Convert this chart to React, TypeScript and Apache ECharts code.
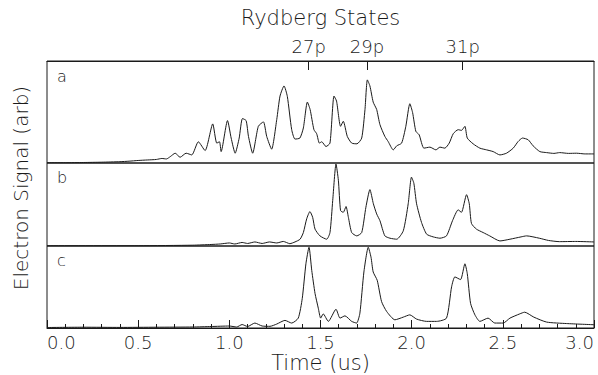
import React, { useEffect, useRef } from "react";
import * as echarts from "echarts";

// Panel a
const timeA = [0, 0.1, 0.2, 0.3, 0.4, 0.45, 0.5, 0.55, 0.6, 0.63, 0.655, 0.676, 0.703, 0.73, 0.763, 0.794, 0.83, 0.867, 0.909, 0.931, 0.946, 0.955, 0.99, 1.01, 1.032, 1.054, 1.072, 1.092, 1.105, 1.128, 1.159, 1.187, 1.205, 1.232, 1.26, 1.278, 1.3, 1.318, 1.342, 1.36, 1.387, 1.406, 1.428, 1.443, 1.464, 1.479, 1.494, 1.507, 1.53, 1.552, 1.574, 1.588, 1.61, 1.625, 1.647, 1.671, 1.7, 1.726, 1.744, 1.757, 1.771, 1.789, 1.808, 1.826, 1.853, 1.871, 1.899, 1.918, 1.945, 1.968, 1.99, 2.005, 2.023, 2.041, 2.067, 2.1, 2.133, 2.155, 2.182, 2.206, 2.228, 2.255, 2.273, 2.292, 2.305, 2.337, 2.374, 2.411, 2.447, 2.484, 2.52, 2.557, 2.584, 2.608, 2.639, 2.666, 2.703, 2.74, 2.78, 2.812, 2.86, 2.904, 2.95, 3.0];
const signalA = [0.3, 0.3, 0.5, 0.8, 1.3, 1.8, 2.5, 3, 3.5, 4.5, 4, 6.3, 9.7, 5.7, 9.7, 8, 21, 12.3, 38.7, 19.7, 21, 11.3, 42, 24.7, 9.7, 24.7, 44, 42, 26.3, 9.7, 36.3, 40.7, 26.3, 13.7, 43, 66.3, 76.3, 66, 33, 23.7, 24.7, 34.7, 60.3, 53, 33, 29, 19.7, 21, 16.3, 19.7, 66.3, 61.3, 36.3, 41.3, 26.3, 19.7, 19, 24.7, 53, 82.3, 76.3, 60.3, 53, 38, 26.3, 21.3, 13, 17, 19.7, 36.3, 58.7, 50, 31.3, 28, 14.7, 15.7, 13, 15.7, 14.7, 19.7, 29, 33, 32.3, 36.3, 24.7, 19, 14.7, 13, 11.3, 8, 9.7, 14.7, 21.3, 24.7, 23, 17, 11.3, 10.3, 9.5, 10.3, 9.5, 9.7, 9, 9];

// Panel b
const timeB = [0, 0.5, 0.8, 0.9, 0.95, 1.0, 1.03, 1.07, 1.1, 1.14, 1.18, 1.22, 1.26, 1.296, 1.332, 1.36, 1.388, 1.406, 1.424, 1.442, 1.457, 1.47, 1.497, 1.534, 1.552, 1.567, 1.585, 1.598, 1.61, 1.625, 1.64, 1.653, 1.671, 1.699, 1.726, 1.749, 1.771, 1.79, 1.808, 1.826, 1.853, 1.881, 1.918, 1.954, 1.981, 1.999, 2.012, 2.027, 2.054, 2.082, 2.118, 2.155, 2.191, 2.224, 2.255, 2.273, 2.301, 2.316, 2.328, 2.355, 2.392, 2.428, 2.484, 2.539, 2.6, 2.63, 2.7, 2.75, 2.81, 2.9, 3.0];
const signalB = [0.3, 0.3, 0.8, 1.5, 2, 3, 2, 3.5, 2.5, 4, 2.5, 4, 3, 4.5, 2.3, 4, 6.7, 13.3, 26.7, 34, 28.3, 16.7, 10, 6.7, 13.3, 45, 81, 65, 35, 33.3, 39, 28.3, 13.3, 10, 13.3, 38.3, 55.7, 41.7, 31.7, 25, 10, 7.7, 6.7, 15, 41.7, 68, 62, 41.7, 23.3, 11.7, 9, 7.7, 10, 25, 35.7, 33.3, 50.7, 41.7, 22.3, 16.7, 13.3, 10, 5, 6.7, 9, 10, 7.7, 5.5, 4.3, 4.5, 4];

// Panel c
const timeC = [0, 0.2, 0.4, 0.6, 0.8, 0.9, 1.0, 1.04, 1.07, 1.1, 1.14, 1.18, 1.223, 1.26, 1.305, 1.342, 1.378, 1.4, 1.42, 1.437, 1.452, 1.47, 1.488, 1.501, 1.515, 1.543, 1.585, 1.607, 1.634, 1.671, 1.698, 1.716, 1.738, 1.762, 1.777, 1.789, 1.811, 1.835, 1.863, 1.908, 1.954, 1.99, 2.027, 2.082, 2.137, 2.191, 2.219, 2.237, 2.268, 2.292, 2.305, 2.323, 2.347, 2.374, 2.419, 2.456, 2.502, 2.539, 2.593, 2.62, 2.67, 2.74, 2.85, 3.0];
const signalC = [0.5, 0.8, 0.6, 0.8, 1, 1.5, 2, 1, 3.5, 1.5, 5, 2, 1.7, 4, 7.7, 5, 10, 30, 65, 81.7, 58.3, 35, 20, 10, 14.3, 6.7, 19, 10, 12.3, 6.7, 5, 15, 56.7, 81.7, 71.7, 56.7, 48.3, 26.7, 16.7, 8.3, 11, 13.3, 9, 6.7, 6.7, 10, 41.7, 51.7, 49, 65, 55, 25, 13.3, 6.7, 10, 5, 5, 10, 14.3, 16, 11, 6, 4.5, 3.3];

// Rydberg state markers (top axis)
const rydbergTimes = [1.435, 1.755, 2.28];
const rydbergLabels = ["27p", "29p", "31p"];

const panelLabels = ["a", "b", "c"];
const panelMax = [101, 82, 83];

const FONT = "DejaVu Sans";
const INK = "#1a1a1a";

const zip = (t: number[], v: number[]) => t.map((x, i) => [x, v[i]]);

export default function App() {
  const ref = useRef<HTMLDivElement>(null);
  useEffect(() => {
    document.body.style.margin = "0";
    if (!ref.current) return;
    const chart = echarts.init(ref.current, undefined, { renderer: "svg" });
    const grids = [
      { left: 47, right: 4, top: 61, height: 102 },
      { left: 47, right: 4, top: 163, height: 83 },
      { left: 47, right: 4, top: 246, height: 82 },
    ].map((g) => ({ ...g, show: true, borderColor: INK, borderWidth: 1, backgroundColor: "transparent" }));

    const hiddenX = (i: number) => ({
      type: "value", gridIndex: i, min: 0, max: 3, show: false,
    });

    const option: any = {
      animation: false,
      textStyle: { fontFamily: FONT },
      grid: grids,
      xAxis: [
        hiddenX(0),
        hiddenX(1),
        {
          type: "value", gridIndex: 2, min: 0, max: 3, interval: 0.5,
          axisLine: { show: true, lineStyle: { color: INK, width: 1 } },
          axisTick: { show: true, inside: true, length: 8, lineStyle: { color: INK } },
          minorTick: { show: true, splitNumber: 5, length: 4, lineStyle: { color: INK } },
          splitLine: { show: false },
          axisLabel: {
            margin: 5, fontSize: 18, color: INK, fontFamily: FONT, fontWeight: 200,
            formatter: (v: number) => v.toFixed(1),
            alignMinLabel: "left", alignMaxLabel: "right",
          },
          name: "Time (us)", nameLocation: "middle", nameGap: 24,
          nameTextStyle: { fontSize: 21, color: INK, fontFamily: FONT, fontWeight: 200 },
        },
        {
          type: "value", gridIndex: 0, position: "top", min: 0, max: 3,
          axisLine: { show: true, lineStyle: { color: INK, width: 1 } },
          axisTick: { show: true, inside: true, length: 9, customValues: rydbergTimes, lineStyle: { color: INK } },
          splitLine: { show: false },
          axisLabel: {
            margin: 6, fontSize: 18, color: INK, fontFamily: FONT, fontWeight: 200,
            customValues: rydbergTimes,
            formatter: (v: number) => {
              const i = rydbergTimes.findIndex((r) => Math.abs(r - v) < 1e-6);
              return i >= 0 ? rydbergLabels[i] : "";
            },
          },
          name: "Rydberg States", nameLocation: "middle", nameGap: 33,
          nameTextStyle: { fontSize: 21, color: INK, fontFamily: FONT, fontWeight: 200 },
        },
      ],
      yAxis: panelMax.map((m, i) => ({
        type: "value", gridIndex: i, min: 0, max: m, show: false,
      })),
      series: [zip(timeA, signalA), zip(timeB, signalB), zip(timeC, signalC)].map((d, i) => ({
        type: "line", xAxisIndex: i, yAxisIndex: i, data: d, showSymbol: false, symbol: "none",
        smooth: 0.2, lineStyle: { color: INK, width: 1 }, silent: true,
      })),
      graphic: [
        ...panelLabels.map((t, i) => ({
          type: "text", left: 57, top: [68, 169, 252][i],
          style: { text: t, fontSize: 16, fontFamily: FONT, fontWeight: 200, fill: INK },
        })),
        {
          type: "text", x: 21, y: 188, rotation: Math.PI / 2,
          style: {
            text: "Electron Signal (arb)", fontSize: 20, fontFamily: FONT, fontWeight: 200,
            fill: INK, align: "center", verticalAlign: "middle",
          },
        },
      ],
    };
    chart.setOption(option);
    return () => chart.dispose();
  }, []);
  return <div ref={ref} style={{ width: 598, height: 375, background: "#fff" }} />;
}
